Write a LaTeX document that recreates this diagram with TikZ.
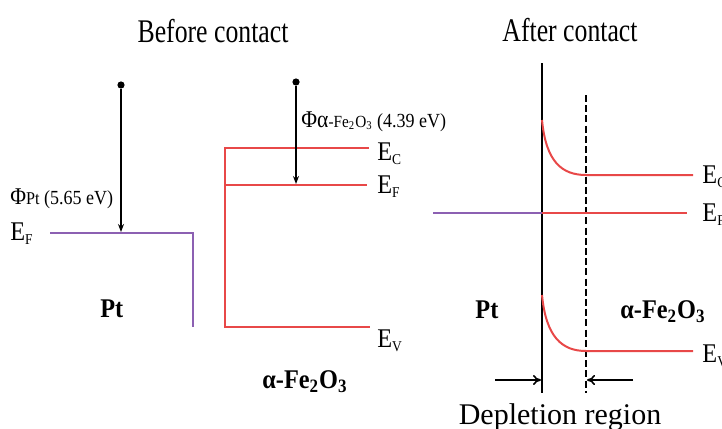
\documentclass[tikz,border=0pt]{standalone}
\usepackage{fontspec}
\setmainfont{Liberation Serif}
\newfontfamily\titlefont[FakeStretch=0.78]{Liberation Serif}
\newfontfamily\condfont[FakeStretch=0.9]{Liberation Serif}
\usetikzlibrary{arrows.meta}
\definecolor{bandred}{RGB}{232,72,72}
\definecolor{fermipurple}{RGB}{140,96,178}
\newcommand{\lvlsub}[1]{\textsubscript{\fontsize{7.5}{8}\selectfont #1}}
\begin{document}
\begin{tikzpicture}[x=0.5pt, y=-0.5pt,
  title/.style={font=\titlefont\fontsize{16.5}{18}\selectfont, inner sep=0pt},
  lvl/.style={font=\condfont\fontsize{13.5}{15}\selectfont, anchor=base west, inner sep=0pt},
  mat/.style={font=\condfont\bfseries\fontsize{13.5}{15}\selectfont, anchor=base west, inner sep=0pt},
  wf/.style={font=\condfont\fontsize{10}{12}\selectfont, anchor=base west, inner sep=0pt},
  band/.style={draw=bandred, line width=1pt},
  fermi/.style={draw=fermipurple, line width=1.2pt},
  phi/.style={-{Stealth[length=4pt,width=3pt]}, line width=0.8pt},
  dot/.style={circle, fill=black, inner sep=0pt, minimum size=3.6pt},
  iface/.style={line width=0.8pt},
  edge/.style={line width=0.8pt, dash pattern=on 3.5pt off 1.6pt},
  dep/.style={-{To[length=4pt,width=5pt]}, line width=0.8pt}
]
\useasboundingbox (0,0) rectangle (722,428);

% titles
\node[title] (before) at (213,31) {Before contact};
\node[title] (after) at (570,30) {After contact};

% Pt before contact
\coordinate (ptL) at (50,233);
\coordinate (ptR) at (193,233);
\coordinate (ptB) at (193,327);
\draw[fermi] (ptL) -- (ptR) -- (ptB);
\node[dot] (ptVac) at (121,85) {};
\coordinate (ptHit) at (121,232);
\draw[phi] (ptVac) -- (ptHit);
\node[wf] (ptPhi) at (10,204) {{\fontsize{12}{12}\selectfont Φ}{\fontsize{9}{10}\selectfont Pt} (5.65 eV)};
\node[lvl] (ptEF) at (10,240) {E\lvlsub{F}};
\node[mat] (ptName) at (100,317) {Pt};

% alpha-Fe2O3 before contact
\coordinate (scC) at (225,148);
\coordinate (scCr) at (369,148);
\coordinate (scF) at (225,185);
\coordinate (scFr) at (367,185);
\coordinate (scV) at (225,327);
\coordinate (scVr) at (370,327);
\draw[band] (scCr) -- (scC) -- (scV) -- (scVr);
\draw[band] (scF) -- (scFr);
\node[dot] (scVac) at (296,82) {};
\coordinate (scHit) at (296,184);
\draw[phi] (scVac) -- (scHit);
\node[wf] (scPhi) at (301,127) {{\fontsize{12}{12}\selectfont Φα}{\fontsize{8.5}{9}\selectfont -Fe\textsubscript{2}O\textsubscript{3}} (4.39 eV)};
\node[lvl] (scEc) at (377,160) {E\lvlsub{C}};
\node[lvl] (scEF) at (377,193) {E\lvlsub{F}};
\node[lvl] (scEv) at (377,347) {E\lvlsub{V}};
\node[mat] (scName) at (262,388) {α-Fe\textsubscript{2}O\textsubscript{3}};

% after contact
\coordinate (ifT) at (542,63);
\coordinate (ifB) at (542,393);
\coordinate (dlT) at (586,95);
\coordinate (dlB) at (586,393);
\draw[iface] (ifT) -- (ifB);
\draw[edge] (dlT) -- (dlB);
\coordinate (cTop) at (542,120);
\coordinate (cEnd) at (586,175);
\coordinate (cR) at (693,175);
\draw[band] (cTop) .. controls (546,162) and (562,175) .. (cEnd) -- (cR);
\coordinate (vTop) at (542,295);
\coordinate (vEnd) at (586,351);
\coordinate (vR) at (693,351);
\draw[band] (vTop) .. controls (546,337) and (562,351) .. (vEnd) -- (vR);
\coordinate (fL) at (433,213);
\coordinate (fM) at (542,213);
\coordinate (fR) at (687,213);
\draw[fermi] (fL) -- (fM);
\draw[band] (fM) -- (fR);
\node[lvl] (afEc) at (702,183) {E\lvlsub{C}};
\node[lvl] (afEF) at (702,221) {E\lvlsub{F}};
\node[lvl] (afEv) at (702,362) {E\lvlsub{V}};
\node[mat] (afPt) at (475,318) {Pt};
\node[mat] (afSc) at (620,318) {α-Fe\textsubscript{2}O\textsubscript{3}};

% depletion width
\coordinate (dlArL) at (495,380);
\coordinate (dlArR) at (633,380);
\coordinate (ifAr) at (541,380);
\coordinate (dlAr) at (587,380);
\draw[dep] (dlArL) -- (ifAr);
\draw[dep] (dlArR) -- (dlAr);
\node[font=\fontsize{15}{17}\selectfont, anchor=base, inner sep=0pt] (depl) at (560,424) {Depletion region};
\end{tikzpicture}
\end{document}
